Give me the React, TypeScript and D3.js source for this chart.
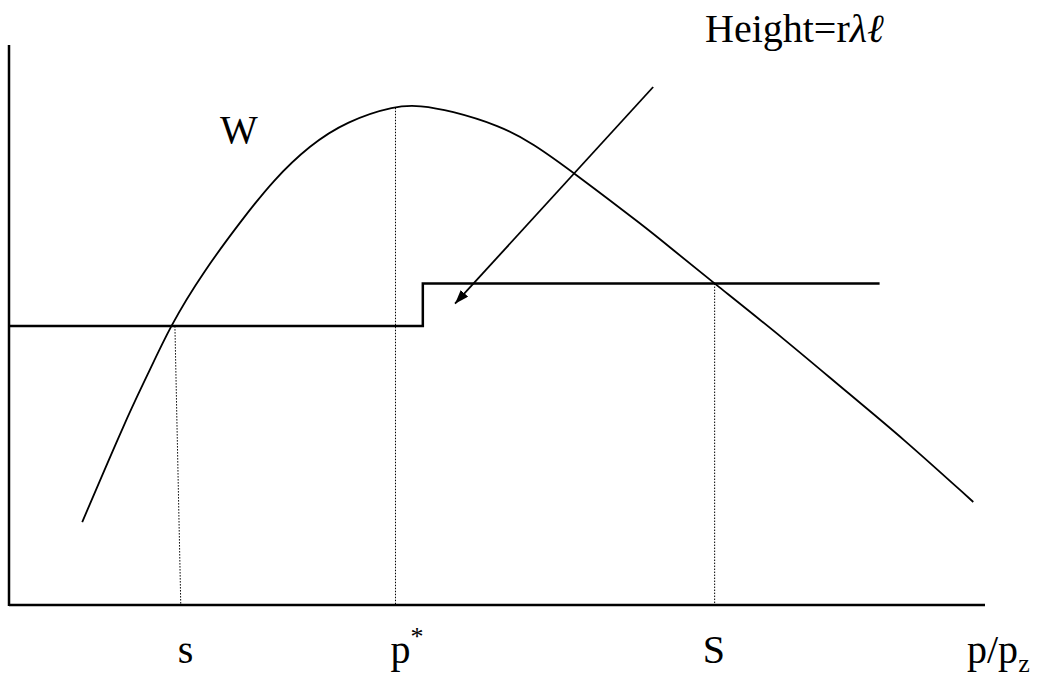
import React from 'react';
import * as d3 from 'd3';

const WIDTH = 1046;
const HEIGHT = 681;
const FONT = '"Liberation Serif", "Times New Roman", serif';

// W curve, x = p/p_z and y = value, both on a 0..100 scale
const curveX = [7.5, 12.1, 14.1, 16.5, 19.9, 24.0, 27.1, 30.8, 34.6, 39.6, 42.1, 45.2, 50.3, 53.7, 57.7, 65.4, 67.9, 72.3, 79.3, 86.2, 91.3, 98.8];
const curveY = [14.8, 33.6, 40.7, 49.8, 59.5, 69.1, 75.9, 82.1, 86.4, 89.2, 89.2, 88.3, 85.6, 82.4, 77.4, 67.2, 63.6, 57.4, 47.7, 37.5, 30.2, 18.4];

// step function: low level up to p*, then high level
const stepX = [0, 42.4, 89.2];
const stepY = [49.8, 57.4, 57.4];

// dotted drop lines for s, p*, S
const markLabels = ['s', 'p', 'S'];
const markTopX = [17.0, 39.6, 72.3];
const markBottomX = [17.6, 39.6, 72.3];
const markTopY = [49.8, 88.8, 57.4];

// arrow from the "Height" note to the jump
const arrowFrom = [66.0, 92.5];
const arrowTo = [45.7, 53.8];

export default function App() {
  const margin = { left: 9, right: 61, top: 45, bottom: 76 };
  const x = d3.scaleLinear().domain([0, 100]).range([margin.left, WIDTH - margin.right]);
  const y = d3.scaleLinear().domain([0, 100]).range([HEIGHT - margin.bottom, margin.top]);

  const wLine = d3.line<number>()
    .x(i => x(curveX[i]))
    .y(i => y(curveY[i]))
    .curve(d3.curveBasis);

  const stepLine = d3.line<number>()
    .x(i => x(stepX[i]))
    .y(i => y(stepY[i]))
    .curve(d3.curveStepAfter);

  const baseY = y(0);

  return (
    <svg
      width={WIDTH}
      height={HEIGHT}
      style={{ position: 'absolute', left: 0, top: 0, background: '#fff' }}
      fontFamily={FONT}
    >
      <defs>
        <marker id="head" viewBox="0 0 14 10" refX="14" refY="5" markerWidth="14" markerHeight="10"
          markerUnits="userSpaceOnUse" orient="auto">
          <path d="M0,0 L14,5 L0,10 Z" fill="#000" />
        </marker>
      </defs>

      {/* axes */}
      <line x1={x(0)} x2={x(0)} y1={y(100)} y2={baseY + 1} stroke="#000" strokeWidth={2.5} />
      <line x1={x(0)} x2={x(100)} y1={baseY} y2={baseY} stroke="#000" strokeWidth={2.5} />

      {/* dotted drop lines */}
      {markLabels.map((l, i) => (
        <line key={'d' + i} x1={x(markTopX[i])} y1={y(markTopY[i])} x2={x(markBottomX[i])} y2={baseY}
          stroke="#000" strokeWidth={1} strokeDasharray="1.5,1.5" />
      ))}

      {/* step */}
      <path d={stepLine(d3.range(stepX.length)) ?? ''} fill="none" stroke="#000" strokeWidth={2.5} />

      {/* W curve */}
      <path d={wLine(d3.range(curveX.length)) ?? ''} fill="none" stroke="#000" strokeWidth={1.8} />

      {/* arrow */}
      <line x1={x(arrowFrom[0])} y1={y(arrowFrom[1])} x2={x(arrowTo[0])} y2={y(arrowTo[1])}
        stroke="#000" strokeWidth={1.8} markerEnd="url(#head)" />

      {/* texts */}
      <text x={220} y={143} fontSize={40}>W</text>
      <text x={705} y={42} fontSize={40}>
        Height=r<tspan fontStyle="italic">λ</tspan><tspan fontStyle="italic">ℓ</tspan>
      </text>

      <text x={x(markBottomX[0]) - 3} y={663} fontSize={40}>s</text>
      <text x={x(markBottomX[1]) - 5} y={663} fontSize={40}>
        p<tspan fontSize={26} dy={-18}>*</tspan>
      </text>
      <text x={x(markBottomX[2]) - 12} y={663} fontSize={40}>S</text>
      <text x={967} y={663} fontSize={40}>
        p/p<tspan fontSize={26} dy={9}>z</tspan>
      </text>
    </svg>
  );
}
